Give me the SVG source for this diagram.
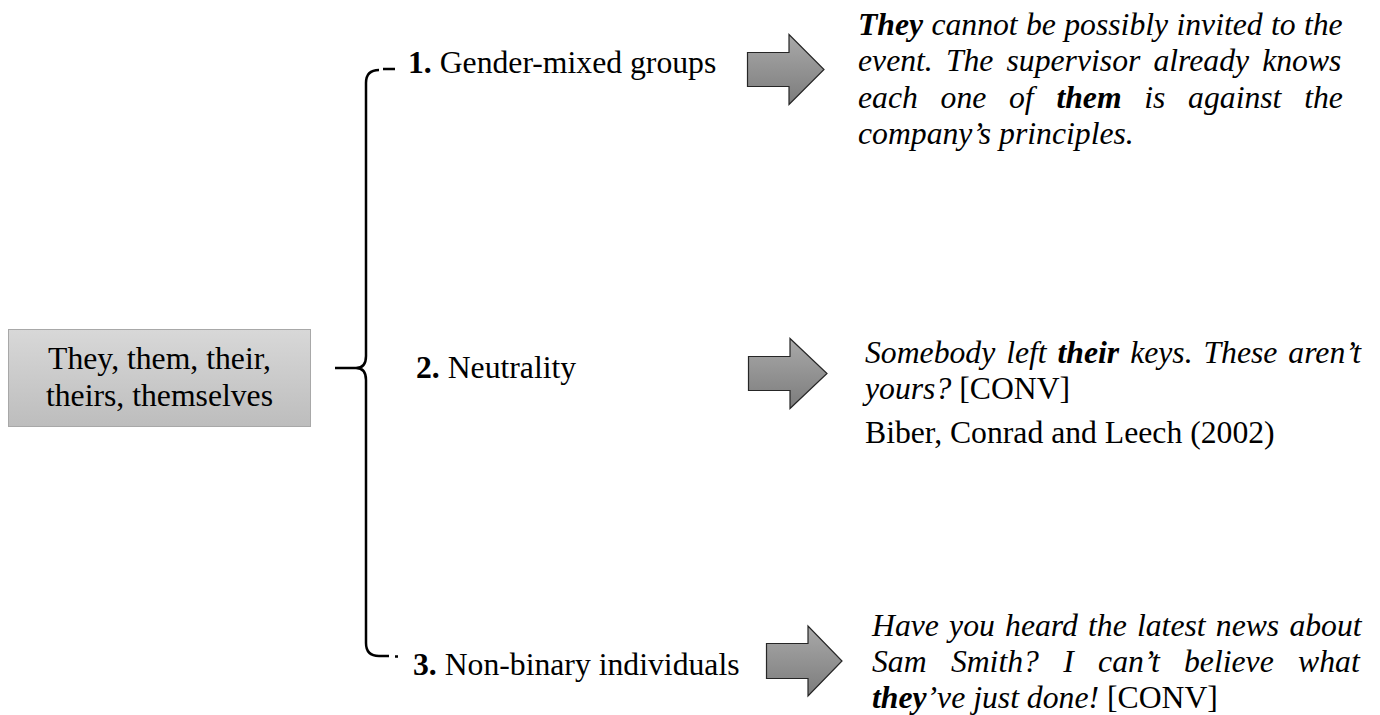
<svg xmlns="http://www.w3.org/2000/svg" width="1380" height="715" viewBox="0 0 1380 715">
<style>
  text { font-family: "Liberation Serif", "Times New Roman", serif; font-size: 31.7px; fill: #000; }
  .it { font-style: italic; }
  .b { font-weight: bold; }
  .arrow { fill: url(#arrowGrad); stroke: #262626; stroke-width: 1.2; stroke-linejoin: miter; }
  .brace { fill: none; stroke: #000; stroke-width: 2.5; stroke-linecap: butt; stroke-linejoin: round; }
</style>
<defs>
  <linearGradient id="boxGrad" x1="0" y1="0" x2="0" y2="1">
    <stop offset="0" stop-color="#d8d8d8"/>
    <stop offset="1" stop-color="#bdbdbd"/>
  </linearGradient>
  <linearGradient id="arrowGrad" x1="0" y1="0" x2="0" y2="1">
    <stop offset="0" stop-color="#a9a9a9"/>
    <stop offset="1" stop-color="#7c7c7c"/>
  </linearGradient>
</defs>
<rect width="1380" height="715" fill="#fff"/>

<g id="root-node">
  <rect x="8.5" y="329.5" width="302" height="97" fill="url(#boxGrad)" stroke="#a8a8a8" stroke-width="1"/>
  <text x="159.5" y="369" text-anchor="middle">They, them, their,</text>
  <text x="159.5" y="406" text-anchor="middle">theirs, themselves</text>
</g>

<g id="connectors">
  <path class="brace" d="M379,70 Q366,70 366,83 L366,356 Q366,368 356,368 L335,368 M356,368 Q366,368 366,380 L366,643 Q366,656 379,656 L389,656"/>
  <path class="brace" d="M383,69 L395,69 M395,656.5 L398,656.5"/>
  <path id="arrow1" class="arrow" d="M747.5,52.5 L789,52.5 L789,34.5 L824,69.5 L789,104.5 L789,86.5 L747.5,86.5 Z"/>
  <path id="arrow2" class="arrow" d="M748.5,356.5 L790,356.5 L790,338.5 L827,373.5 L790,408.5 L790,390.5 L748.5,390.5 Z"/>
  <path id="arrow3" class="arrow" d="M766.5,643.5 L808,643.5 L808,626 L842,661 L808,696 L808,678.5 L766.5,678.5 Z"/>
</g>

<g id="label1">
  <text x="408" y="73"><tspan class="b">1.</tspan> Gender-mixed groups</text>
</g>
<g id="label2">
  <text x="416" y="378"><tspan class="b">2.</tspan> Neutrality</text>
</g>
<g id="label3">
  <text x="413" y="675"><tspan class="b">3.</tspan> Non-binary individuals</text>
</g>

<g id="example1">
  <text class="it" x="858" y="34.5" word-spacing="0.4"><tspan class="b">They</tspan> cannot be possibly invited to the</text>
  <text class="it" x="858" y="71" word-spacing="5.2">event. The supervisor already knows</text>
  <text class="it" x="858" y="107.5" word-spacing="14.8">each one of <tspan class="b">them</tspan> is against the</text>
  <text class="it" x="858" y="144">company’s principles.</text>
</g>

<g id="example2">
  <text class="it" x="865" y="363" word-spacing="3">Somebody left <tspan class="b">their</tspan> keys. These aren’t</text>
  <text x="865" y="399"><tspan class="it">yours?</tspan> [CONV]</text>
  <text x="865" y="443">Biber, Conrad and Leech (2002)</text>
</g>

<g id="example3">
  <text class="it" x="872" y="636" word-spacing="2.3">Have you heard the latest news about</text>
  <text class="it" x="872" y="672" word-spacing="16.4">Sam Smith? I can’t believe what</text>
  <text x="872" y="708"><tspan class="it"><tspan class="b">they</tspan>’ve just done!</tspan> [CONV]</text>
</g>
</svg>
